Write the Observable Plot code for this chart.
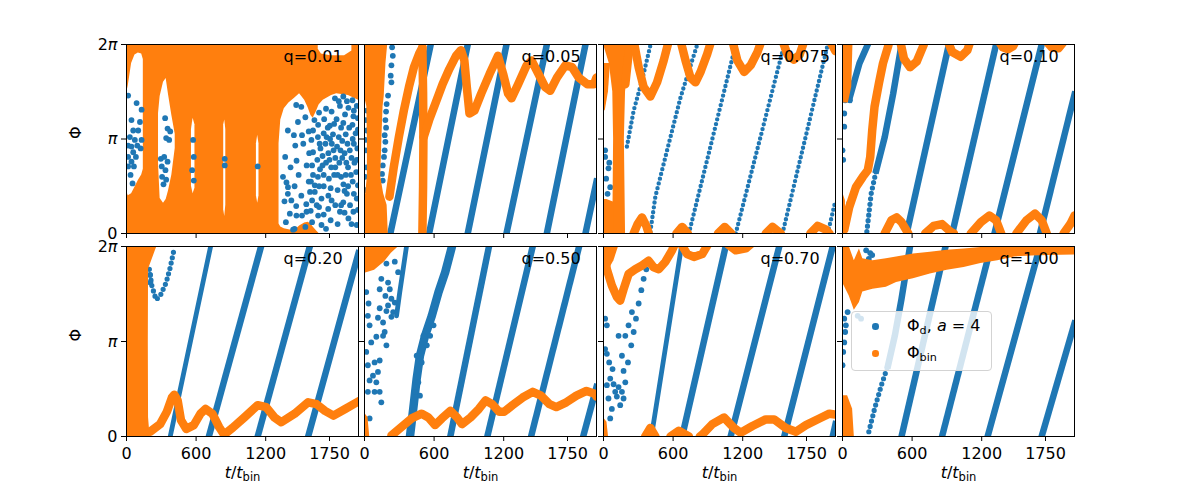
<!DOCTYPE html>
<html><head><meta charset="utf-8">
<script src="https://cdn.jsdelivr.net/npm/d3@7"></script>
<script src="https://cdn.jsdelivr.net/npm/@observablehq/plot@0.6"></script>
<style>
body{margin:0;background:#fff;font-family:"DejaVu Sans",sans-serif}
#fig{position:relative;width:1196px;height:483px;overflow:hidden;background:#fff}
#legend{position:absolute;left:851px;top:311px;width:141px;height:60px;background:rgba(255,255,255,0.8);border:1px solid #d3d3d3;border-radius:4px;box-sizing:border-box;font-family:"DejaVu Sans";font-size:16px;color:#000}
#legend .dot{position:absolute;width:6.5px;height:6.5px;border-radius:50%;left:20px}
#legend .lab{position:absolute;left:55px;line-height:18px;white-space:nowrap}
#legend sub{font-size:70%;vertical-align:-3px;line-height:0}
</style>
</head><body><div id="fig"></div>
<script>
const blue = "#1f77b4", orange = "#ff7f0e";
const qLabels = ["q=0.01","q=0.05","q=0.075","q=0.10","q=0.20","q=0.50","q=0.70","q=1.00"];
const xTicks = [0, 600, 1200, 1750];
const yTicks = [0, 1, 2];              // phase in units of pi
const yTickLabels = ["0", "π", "2π"];
const tMax = 2000;

// ---------- q = 0.01 ----------
const q01_orange = [[[0,0,2],[2000,0,2]]];
const q01_holes = [
  [[0,0.45,1.48],[15,0.40,1.56],[44,0.42,1.80],[73,0.49,1.89],[102,0.56,1.91],[131,0.62,1.90],[145,0.68,1.84]],
  [[276,0.74,1.27],[290,0.37,1.45],[319,0.32,1.60],[342,0.36,1.64],[362,0.45,1.47],[391,0.62,1.25],[420,0.90,1.05]],
  [[560,0.50,1.10],[574,0.42,1.22],[590,0.48,1.15]],
  [[838,0.25,1.15],[847,0.18,1.20],[856,0.30,1.10]],
  [[1120,0.40,0.95],[1131,0.32,1.04],[1142,0.40,0.95]],
  [[1315,0.10,0.95],[1330,0.07,1.20],[1360,0.05,1.32],[1400,0.04,1.38],[1449,0.03,1.43],[1492,0.08,1.48],[1536,0.11,1.41],[1566,0.12,1.33],[1590,0.10,1.25],[1609,0.07,1.22],[1637,0.03,1.29],[1660,0,1.36],[1696,0,1.41],[1768,0,1.46],[1812,0,1.48],[1913,0,1.46],[2000,0,1.41]],
  [[1653,1.95,2],[1680,1.90,2],[1760,1.88,2],[1880,1.88,2],[1943,1.93,2]]
];
const q01_dots = [
  [14,1.46],[87,1.38],[130,1.31],[43,1.20],[116,1.18],[58,1.09],[101,1.09],[29,1.02],[72,0.99],[130,0.99],[14,0.93],[43,0.92],[93,0.93],[122,0.90],[58,0.86],[14,0.81],[81,0.81],[43,0.76],[14,0.71],[64,0.71],[35,0.62],[52,0.53],
  [333,1.22],[354,1.11],[377,1.08],[342,1.01],[368,0.99],[296,0.79],[325,0.81],[354,0.76],[304,0.71],[336,0.67],[307,0.60],[342,0.57],[319,0.52],
  [574,0.99],[580,0.81],[566,0.67],[580,0.56],[847,0.79],[847,0.72],[1131,0.71],
  [1463,1.36],[1507,1.34],[1542,1.23],[1478,1.18],[1391,1.09],[1443,1.04],[1513,1.04],[1571,1.08],[1455,0.93],[1524,0.95],[1368,0.81],[1466,0.77],[1414,0.70],[1553,0.72],[1484,0.62],[1379,0.54],[1571,0.55],[1449,0.50],[1391,0.42],[1507,0.40],[1582,0.44],[1362,0.34],[1463,0.29],[1550,0.31],[1408,0.21],[1513,0.19],[1374,0.12],[1449,0.05],[1588,0.24],[1600,0.12],[1542,0.07],[1681,0.09],[1652,0.19],[1739,0.26],[1840,0.23],[1913,0.16],[1985,0.09],[1956,0.23],[1869,0.33],[1768,0.35],[1995,0.51],[1985,0.37],[1927,0.30],[1681,0.37],[1623,0.44],
  [1797,1.43],[1869,1.45],[1948,1.41],[1840,1.35],[1913,1.33],[1985,1.35],[1768,1.29],[1884,1.26],[1956,1.24],[1704,1.21],[1811,1.21],[1995,1.22],[1652,1.15],[1753,1.14],[1869,1.17],[1948,1.15],[1995,1.10],[1608,1.09],[1594,0.99],[1608,0.86],[1600,0.72],[1608,0.62],[1623,0.51],
  [1349,0.60],[1392,0.49],[1421,0.35],[1465,0.19],[1552,0.23],[1436,0.04],
  [1620,1.20],[1660,1.28],[1720,1.32],[1830,1.40],[1900,1.40],[1960,1.30],[1640,0.30],[1700,0.20],[1760,0.14],[1820,0.10],[1880,0.22],[1940,0.10],[1995,0.25],[1720,0.05],[1590,0.55],[1575,0.85],[1600,0.35],[1660,0.28],[1900,0.42],[1960,0.42],[1850,0.30],[1800,0.30],[1740,0.40],
  [1650,1.02],[1672,0.90],[1645,0.78],[1668,0.68],[1650,0.60],[1700,0.50],[1735,1.12],[1790,1.16],[1850,1.12],[1920,1.12],[1975,1.06],[1990,0.90],[1985,0.78],[1700,1.06],[1880,0.45],[1820,0.46],[1760,0.48],[1950,0.55],[1720,0.75],[1800,0.80],[1880,0.85],[1940,0.80],[1770,0.95],[1850,0.60],[1910,0.70],
  [1665,0.95],[1690,0.82],[1715,0.95],[1740,0.85],[1765,0.70],[1790,0.62],[1815,0.92],[1835,0.75],[1860,0.98],[1890,0.62],[1905,0.95],[1925,0.88],[1960,0.95],[1980,0.65],[1700,0.62],[1745,0.58],[1830,1.02],[1870,0.52],[1935,0.62],[1660,0.50],[1780,1.05],[1890,1.05],[1755,1.00],[1820,0.62],[1965,0.75],[1690,0.72],[1860,0.80],[1800,0.70],[1750,0.78],[1910,0.50],[1845,0.88],[1895,0.75],[1725,1.02],[1950,1.00],[1785,0.88]
];

// ---------- q = 0.05 ----------
const q005_stripes = [[[223,0],[571,2]],[[557,0],[890,2]],[[890,0],[1224,2]],[[1224,0],[1572,2]],[[1572,0],[1905,2]],[[1905,0],[2000,0.55]]];
const q005_dots = [[238,1.97],[244,1.88],[232,1.78],[226,1.67],[232,1.60],[203,1.46],[191,1.37],[186,1.29],[180,1.20],[186,1.12],[174,1.04],[180,0.97],[174,0.88],[168,0.81],[157,0.72],[151,0.63],[157,0.56],[20,1.30],[12,1.20],[20,1.09],[6,0.99],[12,0.88],[17,0.70],[6,0.60],[12,0.46]];
const q005_orangeCols = [[[0,0,205],[0.3,0,195],[0.42,10,165],[0.6,25,140],[1.0,25,150],[1.34,20,160],[1.45,0,170],[1.8,0,185],[2,0,200]]];
const q005_orange = [
  [[215,0.39],[252,0.70],[296,1.02],[339,1.30],[383,1.55],[426,1.76],[470,1.90],[499,1.97]],
  [[499,1.97],[505,1.5],[508,1.0],[505,0.5],[499,0]],
  [[510,1.02],[557,1.20],[615,1.39],[673,1.58],[731,1.74],[789,1.88],[832,1.94],[861,1.83],[882,1.55],[905,1.27],[948,1.30],[1006,1.48],[1079,1.69],[1151,1.88],[1195,1.69],[1238,1.48],[1267,1.43],[1325,1.58],[1398,1.78],[1441,1.83],[1499,1.69],[1557,1.55],[1601,1.51],[1659,1.65],[1731,1.78],[1789,1.76],[1847,1.65],[1920,1.58],[1978,1.58],[2000,1.65]]
];

// ---------- q = 0.075 ----------
const q0075_dotted = [
  [[202,0.92],[260,1.30],[332,1.62],[404,1.99]],
  [[404,0.02],[447,0.39],[548,0.88],[664,1.44],[808,2.0]],
  [[736,0],[1140,2]],[[1140,0],[1558,2]],[[1543,0],[1933,2]],[[1933,0],[2000,0.35]]
];
const q0075_dots = [[14,0.88],[43,0.69],[23,0.58],[58,0.49],[35,0.42],[72,0.26],[14,0.81],[50,0.75]];
const q0075_orangeCols = [
  [[0,80,190],[1.0,87,180],[1.5,80,190],[1.8,50,220],[2,0,255]],
  [[0,0,90],[0.33,0,90],[0.36,0,30]],
  [[1.3,0,15],[1.5,0,43],[1.8,0,60]]
];
const q0075_orange = [
  [[188,1.58],[216,1.90],[237,2.04]],
  [[260,2.04],[303,1.76],[346,1.55],[404,1.45],[462,1.60],[519,1.83],[563,2.04]],
  [[664,2.04],[707,1.83],[750,1.65],[793,1.60],[837,1.71],[894,1.90],[929,2.04]],
  [[1111,2.04],[1154,1.83],[1212,1.71],[1269,1.78],[1327,1.92],[1362,2.04]],
  [[1543,2.04],[1587,1.89],[1640,1.84],[1690,1.89],[1731,2.04]],
  [[1950,2.04],[2000,1.93]],
  [[260,0],[294,0.10],[332,0.17],[369,0.08],[390,0]],
  [[629,0],[678,0.07],[727,0]],
  [[987,0],[1044,0.07],[1102,0]],
  [[1399,0],[1457,0.07],[1529,0]],
  [[1783,0],[1846,0.08],[1919,0.04],[1948,0]]
];

// ---------- q = 0.10 ----------
const q010_stripes = [[[58,1.42],[146,1.80],[218,2.0]],[[291,0.67],[364,1.02],[437,1.48],[509,2.0]],[[553,0],[917,2]],[[946,0],[1324,2]],[[1310,0],[1717,2]],[[1702,0],[2000,1.47]]];
const q010_dotted = [[[210,0.02],[247,0.42],[291,0.67]]];
const q010_dots = [[73,1.50],[64,1.41],[23,1.41],[15,1.27],[15,1.13],[0,0.88],[6,0.78],[58,0.32],[87,1.59]];
const q010_orangeCols = [[[1.38,10,50],[1.55,0,80],[2,0,90]],[[0,0,30],[0.35,0,25],[0.42,0,5]]];
const q010_orange = [
  [[15,0.04],[58,0.28],[116,0.49],[175,0.60],[218,0.67],[239,0.81],[256,1.09],[276,1.34],[314,1.59],[349,1.80],[393,1.98],[407,2.05]],
  [[495,2.05],[530,1.85],[582,1.76],[640,1.82],[698,1.99],[713,2.05]],
  [[902,2.05],[946,1.92],[1019,1.87],[1077,1.94],[1106,2.05]],
  [[1339,2.05],[1382,1.97],[1426,1.95],[1470,1.98],[1499,2.05]],
  [[1746,2.05],[1804,1.97],[1862,1.96],[1921,2.05]],
  [[364,0],[422,0.14],[466,0.17],[509,0.12],[567,0]],
  [[713,0],[786,0.08],[858,0.10],[931,0.02],[960,0]],
  [[1106,0],[1193,0.12],[1266,0.19],[1324,0.14],[1368,0]],
  [[1499,0],[1586,0.14],[1659,0.21],[1717,0.14],[1761,0]],
  [[1906,0],[1964,0.10],[2000,0.19]]
];

// ---------- q = 0.20 ----------
const q020_stripes = [[[710,0],[1160,2]],[[1131,0],[1580,2]],[[1566,0],[2000,1.93]]];
const q020_thin = [[[377,0],[725,2]]];
const q020_dotted = [[[197,1.76],[218,1.59],[255,1.44],[290,1.48],[342,1.62],[377,1.78],[412,1.98]]];
const q020_dots = [[203,1.70],[206,1.62]];
const q020_orangeCols = [[[0,0,203],[0.2,0,190],[1.0,0,188],[1.76,0,190],[2,0,262]]];
const q020_orange = [[[203,0.05],[290,0.13],[348,0.26],[392,0.41],[412,0.44],[441,0.38],[470,0.17],[516,0.08],[580,0.12],[638,0.24],[682,0.29],[740,0.24],[798,0.10],[841,0.02],[914,0.09],[1015,0.20],[1131,0.33],[1204,0.31],[1276,0.20],[1334,0.15],[1450,0.24],[1566,0.36],[1639,0.34],[1711,0.27],[1784,0.22],[1885,0.29],[2000,0.37]]];

// ---------- q = 0.50 ----------
const q050_stripes = [[[740,0],[1073,2]],[[1059,0],[1450,2]],[[1436,0],[1850,2]],[[1885,0],[2000,0.52]]];
const q050_thick = [[[392,0],[420,0.29],[450,0.61],[478,0.85],[522,1.06],[580,1.27],[638,1.52],[696,1.73],[754,2.0]]];
const q050_thin = [[[276,1.27],[304,1.52],[333,1.76],[362,2.0]]];
const q050_dots = [[189,1.82],[145,1.66],[203,1.62],[131,1.55],[180,1.48],[232,1.45],[35,1.40],[203,1.38],[261,1.41],[189,1.32],[131,1.35],[29,1.27],[232,1.26],[44,1.17],[116,1.25],[174,1.10],[102,1.05],[160,1.06],[189,0.96],[15,0.89],[29,0.75],[87,0.78],[131,0.80],[116,0.68],[73,0.64],[44,0.59],[102,0.57],[29,0.47],[87,0.47],[145,0.36],[44,0.19],[261,1.84],[290,1.73],[218,1.55],[247,1.31],[15,1.52],[160,1.20],[58,0.99],[131,0.47],
  [464,0.57],[493,0.78],[537,0.96],[478,0.43],[566,1.06],[435,0.47],[508,1.06],[595,1.17],[450,0.85]];
const q050_orangeCols = [[[1.72,0,10],[1.75,0,87],[1.84,0,174],[1.93,0,232],[2,0,295]],[[0,0,45],[0.2,0,30],[0.24,0,5]]];
const q050_orange = [[[232,0.01],[319,0.10],[406,0.19],[493,0.24],[551,0.20],[609,0.12],[667,0.19],[740,0.27],[798,0.20],[841,0.13],[914,0.20],[986,0.29],[1044,0.38],[1102,0.34],[1160,0.26],[1204,0.26],[1276,0.33],[1363,0.41],[1450,0.47],[1522,0.43],[1595,0.34],[1653,0.31],[1740,0.36],[1827,0.43],[1914,0.48],[1986,0.45],[2000,0.42]]];

// ---------- q = 0.70 ----------
const q070_stripes = [[[678,0],[1053,2]],[[1096,0],[1515,2]],[[1558,0],[1976,2]],[[1976,0],[2000,0.13]]];
const q070_thin = [[[413,0],[672,2]]];
const q070_dots = [[173,0.40],[188,0.57],[211,0.78],[239,0.96],[260,1.10],[280,1.24],[303,1.40],[326,1.54],[346,1.66],[369,1.76],[389,1.85],
  [14,1.24],[29,1.17],[14,0.92],[29,0.87],[49,0.78],[78,0.71],[58,0.61],[29,0.54],[87,0.55],[130,0.52],[101,0.47],[43,0.40],[115,0.42],[159,0.47],[72,0.29],[144,0.33],[58,0.19],[173,0.69],[159,0.85],[130,1.06],[188,1.06],[216,1.17],[245,1.31]];
const q070_orangeCols = [[[1.7,0,20],[1.85,0,90],[2,0,130]],[[0,0,43],[0.15,0,30],[0.19,0,5]]];
const q070_orange = [
  [[0,1.96],[29,1.76],[72,1.59],[115,1.47],[144,1.43],[173,1.55],[216,1.71],[274,1.76],[332,1.80],[389,1.85],[433,1.78],[476,1.76],[534,1.84],[591,1.96],[620,2.04]],
  [[664,2.04],[721,1.92],[779,1.89],[851,1.92],[909,2.04]],
  [[1053,2.04],[1140,1.96],[1226,1.98],[1284,2.04]],
  [[360,0],[404,0.09],[447,0]],
  [[577,0],[649,0.06],[736,0]],
  [[830,0],[851,0.02],[938,0.13],[1039,0.20],[1125,0.09],[1183,0.04],[1284,0.11],[1399,0.18],[1471,0.18],[1572,0.09],[1659,0.05],[1745,0.12],[1861,0.19],[1947,0.24],[2000,0.23]]
];

// ---------- q = 1.00 ----------
const q100_stripes = [[[393,0.75],[451,1.06],[509,1.45],[582,2.0]],[[509,0],[888,2]],[[858,0],[1280,2]],[[1251,0],[1702,2]],[[1717,0],[2000,1.19]]];
const q100_dotted = [[[227,0.05],[276,0.29],[335,0.54],[393,0.75]]];
const q100_dots = [[15,1.24],[23,1.10],[6,0.89],[0,0.75],[44,1.31],[15,0.99],[29,1.17],[204,1.96],[239,1.93],[227,1.87],[256,1.91],[131,1.27],[160,1.24]];
const q100_band = [[[0,1.62,2],[58,1.48,2],[102,1.33,1.85],[146,1.41,1.975],[175,1.52,1.87],[262,1.55,1.85],[378,1.57,1.87],[466,1.62,1.89],[611,1.66,1.92],[757,1.71,1.94],[902,1.75,1.96],[1048,1.78,1.975],[1193,1.82,1.99],[1339,1.85,2],[1484,1.89,2],[1630,1.90,2],[1775,1.905,2],[2000,1.91,2]]];
const q100_orangeCols = [[[0,0,102],[0.29,0,87],[0.43,0,44]]];

const panels = [
  {q: qLabels[0], bgY: q01_orange, holes: q01_holes, dots: q01_dots},
  {q: qLabels[1], stripes: q005_stripes, dots: q005_dots, orangeX: q005_orangeCols, orange: q005_orange},
  {q: qLabels[2], dottedFine: q0075_dotted, dots: q0075_dots, orangeX: q0075_orangeCols, orange: q0075_orange},
  {q: qLabels[3], stripes: q010_stripes, dotted: q010_dotted, dots: q010_dots, orangeX: q010_orangeCols, orange: q010_orange},
  {q: qLabels[4], stripes: q020_stripes, thin: q020_thin, dotted: q020_dotted, dots: q020_dots, orangeX: q020_orangeCols, orange: q020_orange},
  {q: qLabels[5], stripes: q050_stripes, thick: q050_thick, thin: q050_thin, dots: q050_dots, orangeX: q050_orangeCols, orange: q050_orange},
  {q: qLabels[6], stripes: q070_stripes, thin: q070_thin, dots: q070_dots, orangeX: q070_orangeCols, orange: q070_orange},
  {q: qLabels[7], stripes: q100_stripes, dotted: q100_dotted, dots: q100_dots, orangeY: q100_band, orangeX: q100_orangeCols}
];

const flatLines = a => (a || []).flatMap((s, k) => s.map(([t, phi]) => ({t, phi, k})));
const flatY = a => (a || []).flatMap((s, k) => s.map(([t, lo, hi]) => ({t, lo, hi, k})));
const flatX = a => (a || []).flatMap((s, k) => s.map(([phi, l, r]) => ({phi, l, r, k})));

const fig = document.getElementById("fig");
const lefts = [126, 364, 603, 842], tops = [44, 246];

panels.forEach((p, i) => {
  const col = i % 4, row = Math.floor(i / 4);
  const W = 232, H = row ? 190 : 189;
  const mL = col === 0 ? 62 : 7, mR = 3, mT = 4, mB = row ? 46 : 8;
  const line = (data, o) => Plot.line(flatLines(data), {x: "t", y: "phi", z: "k", clip: true, strokeLinejoin: "round", ...o});
  const marks = [
    Plot.areaY(flatY(p.bgY), {x: "t", y1: "lo", y2: "hi", z: "k", fill: orange, clip: true}),
    Plot.areaY(flatY(p.holes), {x: "t", y1: "lo", y2: "hi", z: "k", fill: "white", clip: true}),
    line(p.stripes, {stroke: blue, strokeWidth: 6.5, strokeLinecap: "square"}),
    line(p.thick, {stroke: blue, strokeWidth: 8.5, strokeLinecap: "round"}),
    line(p.thin, {stroke: blue, strokeWidth: 4.8, strokeLinecap: "round"}),
    line(p.dottedFine, {stroke: blue, strokeWidth: 4.4, strokeLinecap: "round", strokeDasharray: "0 4.9"}),
    line(p.dotted, {stroke: blue, strokeWidth: 5.2, strokeLinecap: "round", strokeDasharray: "0 5.5"}),
    Plot.dot(p.dots || [], {x: d => d[0], y: d => d[1], r: 2.9, fill: blue, clip: true}),
    Plot.areaX(flatX(p.orangeX), {y: "phi", x1: "l", x2: "r", z: "k", fill: orange, clip: true}),
    Plot.areaY(flatY(p.orangeY), {x: "t", y1: "lo", y2: "hi", z: "k", fill: orange, clip: true}),
    line(p.orange, {stroke: orange, strokeWidth: 8.5, strokeLinecap: "round"}),
    Plot.text([p.q], {frameAnchor: "top-left", text: d => d, dx: 157, dy: 6.5, lineAnchor: "top", textAnchor: "start", fontSize: 16, fill: "black"}),
    Plot.frame({stroke: "black", strokeWidth: 1}),
    Plot.axisX({ticks: xTicks, tickSize: 5, tickPadding: 6, fontSize: 16, label: null,
      tickFormat: row ? (d => String(d)) : (() => "")}),
    Plot.axisY({ticks: yTicks, tickSize: 5, tickPadding: 4, fontSize: 16, label: null,
      tickFormat: col === 0 ? (d => yTickLabels[yTicks.indexOf(d)]) : (() => "")})
  ];
  if (col === 0) marks.push(Plot.text(["Φ"], {frameAnchor: "left", text: d => d, dx: -51, rotate: -90, fontSize: 16, fill: "black"}));
  if (row === 1) marks.push(Plot.text(["t/tbin"], {frameAnchor: "bottom", text: d => d, dy: 41, lineAnchor: "bottom", fontSize: 16, fill: "black"}));
  const svg = Plot.plot({
    width: W + mL + mR, height: H + mT + mB,
    marginLeft: mL, marginRight: mR, marginTop: mT, marginBottom: mB,
    x: {domain: [0, tMax]}, y: {domain: [0, 2]},
    style: {fontFamily: "DejaVu Sans", fontSize: "16px", background: "transparent", overflow: "visible", color: "black"},
    marks
  });
  svg.querySelectorAll("text").forEach(t => {
    if (t.textContent === "2π") t.innerHTML = '2<tspan font-style="italic">π</tspan>';
    else if (t.textContent === "π") t.innerHTML = '<tspan font-style="italic">π</tspan>';
    else if (t.textContent === "t/tbin") t.innerHTML = '<tspan font-style="italic">t</tspan>/<tspan font-style="italic">t</tspan><tspan font-size="11.5" dy="3">bin</tspan>';
  });
  svg.style.position = "absolute";
  svg.style.left = (lefts[col] - mL) + "px";
  svg.style.top = (tops[row] - mT) + "px";
  svg.style.maxWidth = "none";
  fig.appendChild(svg);
});

// legend
const lg = document.createElement("div");
lg.id = "legend";
[[blue, 'Φ<sub>d</sub>, <i>a</i> = 4', 15], [orange, 'Φ<sub>bin</sub>', 42]].forEach(([c, html, cy]) => {
  const d = document.createElement("span"); d.className = "dot"; d.style.background = c; d.style.top = (cy - 3.75) + "px"; lg.appendChild(d);
  const s = document.createElement("span"); s.className = "lab"; s.innerHTML = html; s.style.top = (cy - 10) + "px"; lg.appendChild(s);
});
fig.appendChild(lg);
</script>
</body></html>
